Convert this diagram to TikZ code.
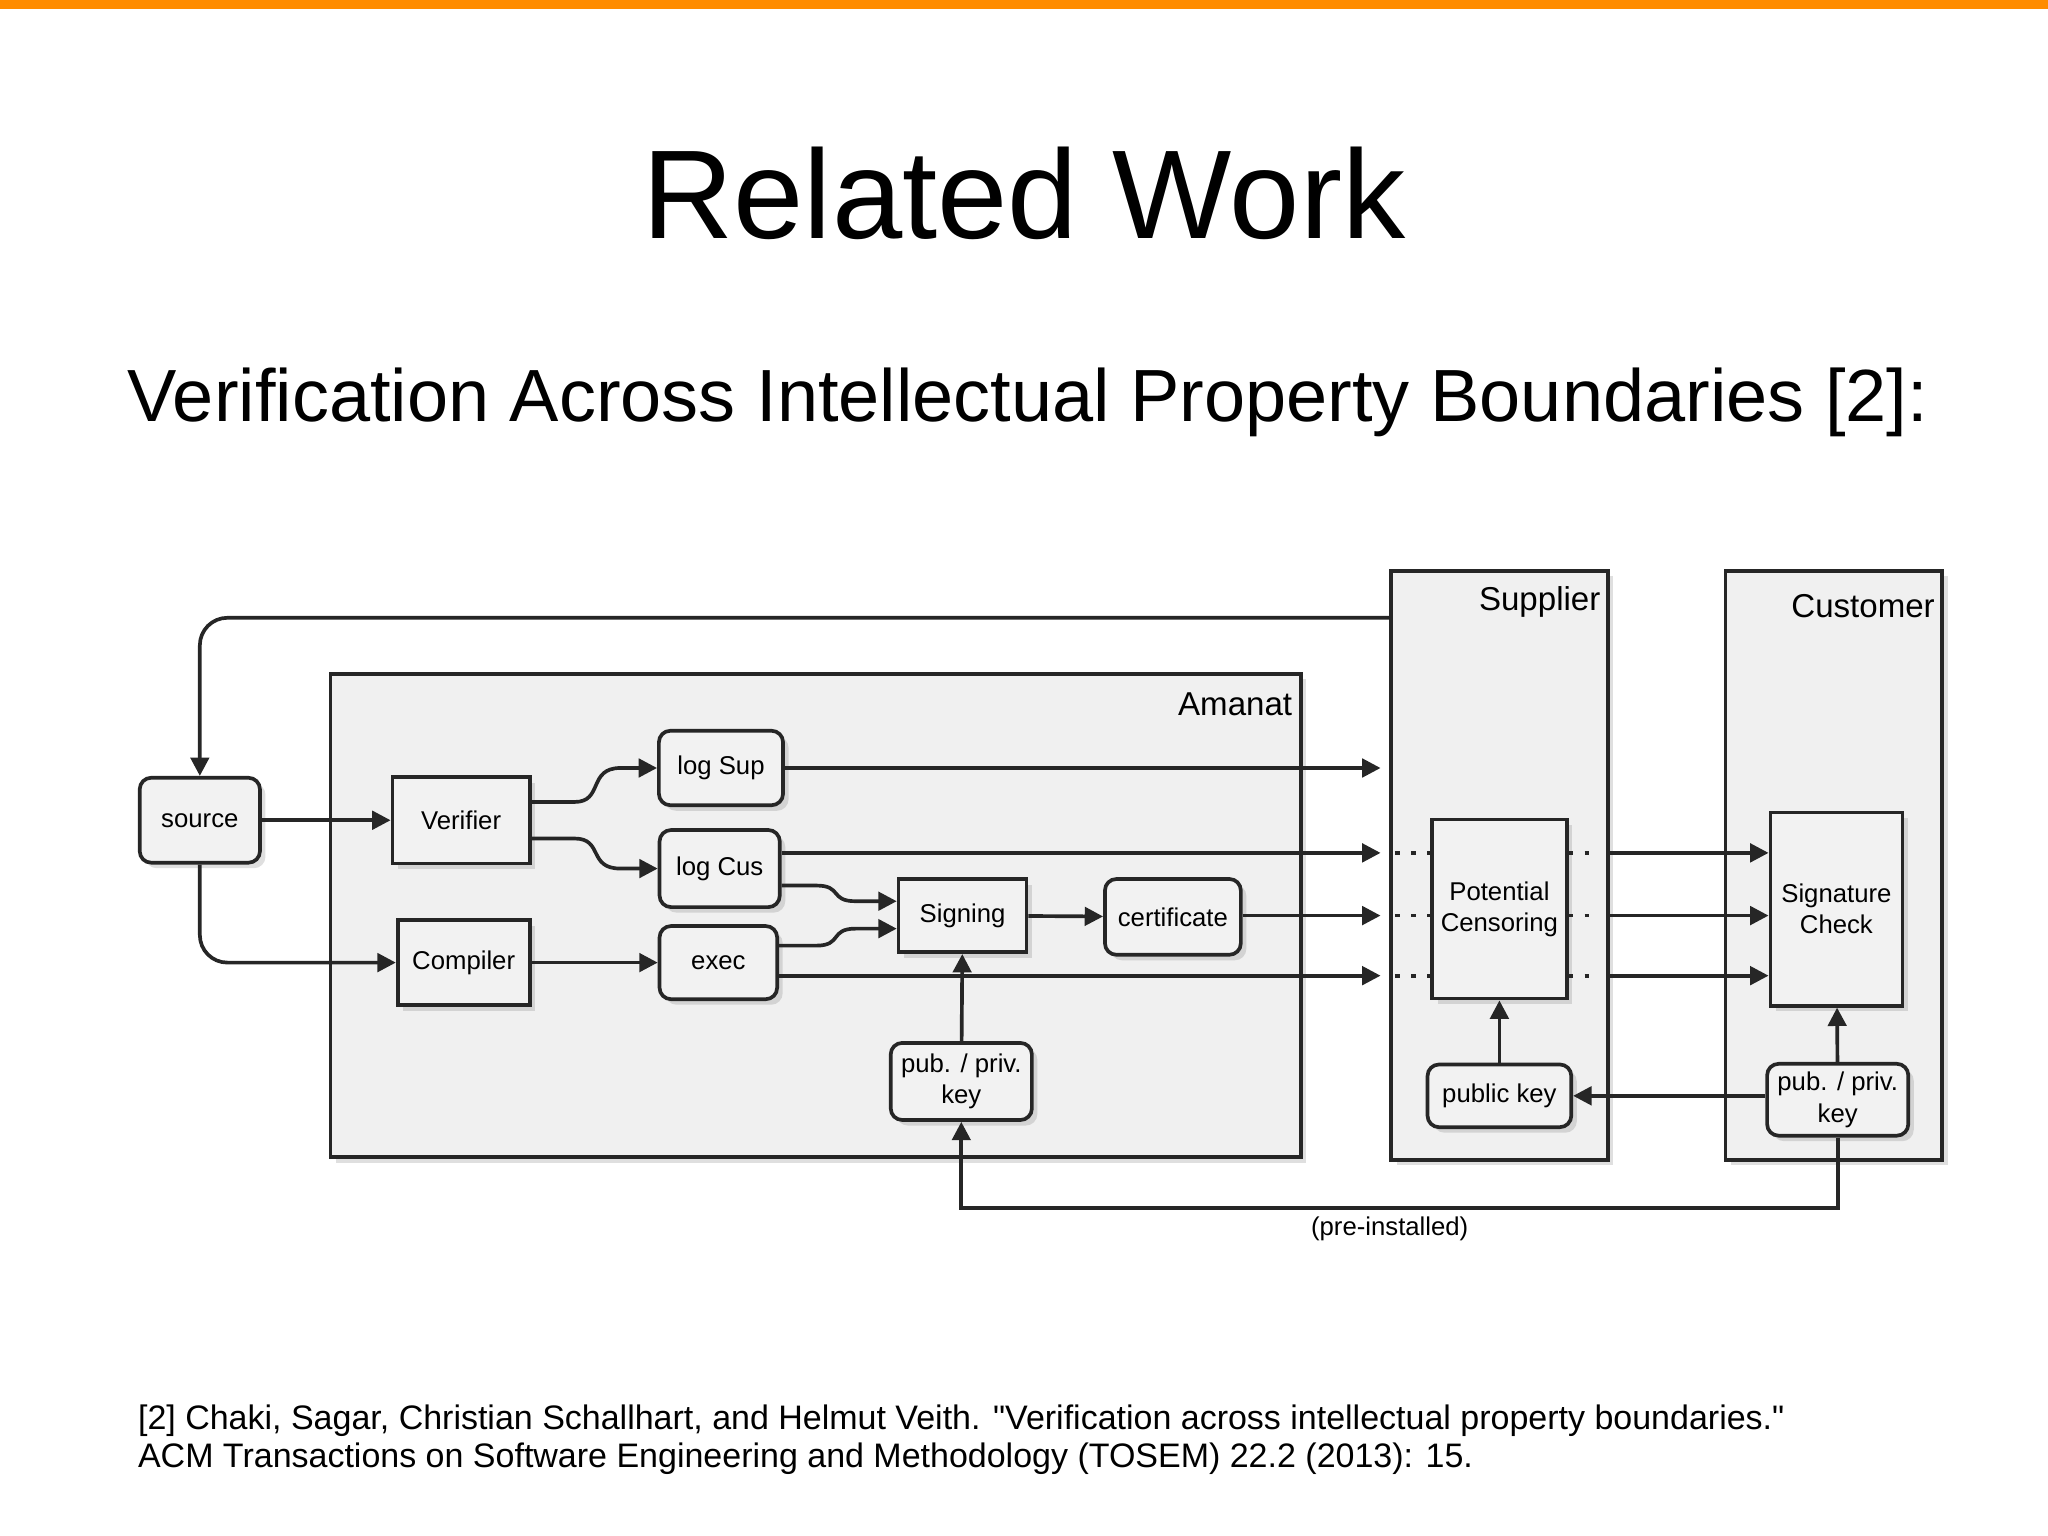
\documentclass[tikz,border=0pt]{standalone}
\usepackage{fontspec}
\setmainfont{Liberation Sans}
\usetikzlibrary{arrows.meta,shadows}
\begin{document}
\begin{tikzpicture}[x=0.01cm,y=-0.01cm,
  bx/.style={draw=black!85,line width=0.8pt,fill=black!5,font=\fontsize{5.6pt}{6.8pt}\selectfont,align=center,inner sep=0pt,
     drop shadow={shadow xshift=1.2pt,shadow yshift=-1.2pt,opacity=0.25}},
  rbx/.style={bx,rounded corners=2.5pt},
  grp/.style={draw=black!85,line width=0.8pt,fill=black!6,
     drop shadow={shadow xshift=1.2pt,shadow yshift=-1.2pt,opacity=0.25}},
  ar/.style={draw=black!85,line width=0.8pt,-{Triangle[length=4pt,width=4pt]}},
  dt/.style={draw=black!85,line width=0.8pt,dash pattern=on 1pt off 2.5pt},
  lbl/.style={font=\fontsize{7.2pt}{9pt}\selectfont,inner sep=0pt}]
\useasboundingbox (0,0) rectangle (1568,1176);
\fill[orange!90!yellow] (0,0) rectangle (1568,7);
\node[font=\fontsize{27.5pt}{33pt}\selectfont] (title) at (784,148) {Related Work};
\node[font=\fontsize{16.1pt}{19pt}\selectfont] (sub) at (787,308) {Verification Across Intellectual Property Boundaries [2]:};
% groups
\path[grp] (253,516) rectangle (996,886);
\path[grp] (1065,437) rectangle (1231,888);
\path[grp] (1321,437) rectangle (1487,888);
\node[lbl,anchor=east] (amanat) at (990,539) {Amanat};
\node[lbl,anchor=east] (supplier) at (1226,461) {Supplier};
\node[lbl,anchor=east] (customer) at (1482,464) {Customer};
% nodes
\node[rbx,minimum width=0.92cm,minimum height=0.65cm] (source) at (153,628) {source};
\node[bx,minimum width=1.05cm,minimum height=0.66cm] (verifier) at (353,628) {Verifier};
\node[bx,minimum width=1.01cm,minimum height=0.65cm] (compiler) at (355,737) {Compiler};
\node[rbx,minimum width=0.95cm,minimum height=0.57cm] (logsup) at (552,588) {log Sup};
\node[rbx,minimum width=0.92cm,minimum height=0.59cm] (logcus) at (551,665) {log Cus};
\node[rbx,minimum width=0.90cm,minimum height=0.56cm] (exec) at (550,737) {exec};
\node[bx,minimum width=0.98cm,minimum height=0.56cm] (signing) at (737,701) {Signing};
\node[rbx,minimum width=1.04cm,minimum height=0.58cm] (cert) at (898,702) {certificate};
\node[rbx,minimum width=1.08cm,minimum height=0.59cm] (key1) at (736,828) {pub. / priv.\\key};
\node[bx,minimum width=1.03cm,minimum height=1.37cm] (cens) at (1148,696) {Potential\\Censoring};
\node[rbx,minimum width=1.10cm,minimum height=0.48cm] (pubkey) at (1148,839) {public key};
\node[bx,minimum width=1.01cm,minimum height=1.48cm] (sig) at (1406,696) {Signature\\Check};
\node[rbx,minimum width=1.08cm,minimum height=0.55cm] (key2) at (1407,842) {pub. / priv.\\key};
% connectors
\coordinate (s0) at (1065,473);
\draw[ar,rounded corners=6pt] (s0) -- (153,473) -- (source.north);
\draw[ar] (source) -- (verifier);
\draw[ar,rounded corners=6pt] (source.south) -- (153,737) -- (compiler.west);
\draw[ar] (verifier.east |- 0,614) -- (440,614) .. controls (462,614) and (450,588) .. (475,588) -- (logsup.west);
\draw[ar] (verifier.east |- 0,642) -- (440,642) .. controls (462,642) and (450,665) .. (475,665) -- (logcus.west);
\draw[ar] (compiler) -- (exec);
\coordinate (e1) at (1057,588);
\draw[ar] (logsup.east |- e1) -- (e1);
\coordinate (e2) at (1057,653);
\draw[ar] (logcus.east |- e2) -- (e2);
\draw[ar] (logcus.east |- 0,678) -- (625,678) .. controls (645,678) and (635,690) .. (655,690) -- (signing.west |- 0,690);
\draw[ar] (exec.east |- 0,724) -- (625,724) .. controls (645,724) and (635,711) .. (655,711) -- (signing.west |- 0,711);
\coordinate (e4) at (1057,747);
\draw[ar] (exec.east |- e4) -- (e4);
\draw[ar] (signing) -- (cert);
\coordinate (e3) at (1057,701);
\draw[ar] (cert.east |- e3) -- (e3);
\draw[ar] (key1) -- (signing);
\foreach \y in {653,701,747}{
  \draw[dt] (1068,\y) -- (cens.west |- 0,\y);
  \draw[dt] (cens.east |- 0,\y) -- (1225,\y);
  \draw[ar] (1231,\y) -- (sig.west |- 0,\y);
}
\draw[ar] (pubkey) -- (cens);
\draw[ar] (key2.west |- pubkey) -- (pubkey.east);
\draw[ar] (key2) -- (sig);
\draw[ar] (key2.south) -- (1407,925) -- (736,925) -- (key1.south);
\node[font=\fontsize{5.6pt}{6.8pt}\selectfont] (pre) at (1064,941) {(pre-installed)};
\node[anchor=north west,align=left,font=\fontsize{7.4pt}{8.2pt}\selectfont,inner sep=0pt] (ref) at (105,1075)
 {[2] Chaki, Sagar, Christian Schallhart, and Helmut Veith. \textquotedbl Verification across intellectual property boundaries.\textquotedbl\\ACM Transactions on Software Engineering and Methodology (TOSEM) 22.2 (2013): 15.};
\end{tikzpicture}
\end{document}
